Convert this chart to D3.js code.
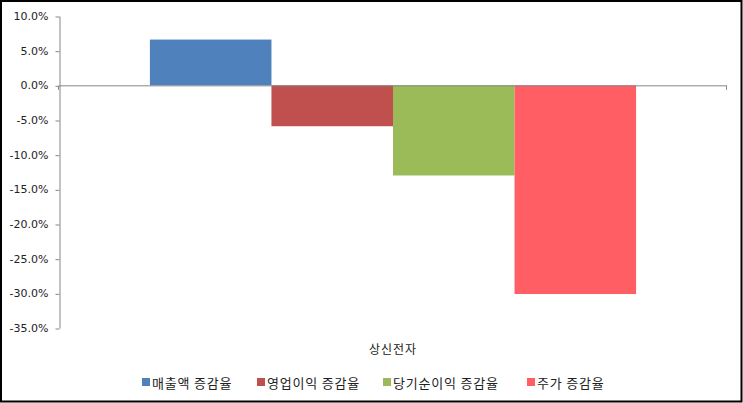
<!DOCTYPE html>
<meta charset="utf-8">
<style>
    body {
        margin: 0;
        font-family: "Noto Sans CJK KR", "DejaVu Sans", sans-serif;
        background: white;
    }

    .axis path,
    .axis line {
        stroke: #868686;
        stroke-width: 1px;
        fill: none;
    }

    text {
        fill: #222222;
    }
</style>

<body>
    <svg id="chart" width="743" height="403"></svg>

    <script src="https://cdnjs.cloudflare.com/ajax/libs/d3/7.8.5/d3.min.js"></script>
    <script>
        var categories = ["상신전자"];
        var seriesNames = ["매출액 증감율", "영업이익 증감율", "당기순이익 증감율", "주가 증감율"];
        var seriesValues = [6.6, -5.9, -13.0, -30.1];
        var seriesColors = ["#4F81BD", "#C0504D", "#9BBB59", "#FF5F64"];
        var yTicks = [10, 5, 0, -5, -10, -15, -20, -25, -30, -35];

        var svg = d3.select("#chart"),
            width = +svg.attr("width"),
            height = +svg.attr("height");

        // outer frame
        svg.append("rect")
            .attr("x", 1)
            .attr("y", 1)
            .attr("width", width - 2.5)
            .attr("height", height - 2.5)
            .attr("fill", "white")
            .attr("stroke", "black")
            .attr("stroke-width", 2);

        var plot = { left: 59, right: 727, top: 16, bottom: 328 };

        var y = d3.scaleLinear()
            .domain([-35, 10])
            .range([plot.bottom, plot.top]);

        var x0 = d3.scaleBand()
            .domain(categories)
            .range([plot.left, plot.right])
            .paddingInner(0)
            .paddingOuter(0.187);

        var x1 = d3.scaleBand()
            .domain(seriesNames)
            .range([0, x0.bandwidth()]);

        var g = svg.append("g");

        categories.forEach(function (c) {
            g.selectAll("rect.bar")
                .data(seriesNames)
                .enter().append("rect")
                .attr("class", "bar")
                .attr("x", function (d) { return x0(c) + x1(d); })
                .attr("width", x1.bandwidth())
                .attr("y", function (d, i) { return y(Math.max(0, seriesValues[i])); })
                .attr("height", function (d, i) { return Math.abs(y(seriesValues[i]) - y(0)); })
                .attr("fill", function (d, i) { return seriesColors[i]; });
        });

        // y axis
        g.append("g")
            .attr("class", "axis")
            .attr("transform", "translate(" + (plot.left + 0.5) + ",0)")
            .call(d3.axisLeft(y)
                .tickValues(yTicks)
                .tickSize(4)
                .tickSizeOuter(0)
                .tickFormat(function (d) { return d.toFixed(1) + "%"; }))
            .call(function (a) {
                a.selectAll("text")
                    .attr("x", -11)
                    .style("font-family", "'DejaVu Sans', sans-serif")
                    .style("font-size", "11px")
                    .style("fill", "#222");
                a.selectAll(".tick line").attr("transform", "translate(0,0.5)");
            });

        // category axis at zero
        var xAxisG = g.append("g")
            .attr("class", "axis")
            .attr("transform", "translate(0," + (y(0) + 0.5) + ")");
        xAxisG.append("line")
            .attr("x1", plot.left)
            .attr("x2", plot.right)
            .attr("y1", 0)
            .attr("y2", 0);
        [plot.left, plot.right].forEach(function (px) {
            xAxisG.append("line")
                .attr("x1", px - 0.5)
                .attr("x2", px - 0.5)
                .attr("y1", 0)
                .attr("y2", 4);
        });

        // category label
        g.selectAll("text.cat")
            .data(categories)
            .enter().append("text")
            .attr("class", "cat")
            .attr("x", function (d) { return x0(d) + x0.bandwidth() / 2; })
            .attr("y", 354)
            .attr("text-anchor", "middle")
            .style("font-size", "12px")
            .style("letter-spacing", "1px")
            .text(function (d) { return d; });

        // legend
        var legendX = [142, 257, 383, 527];
        var legend = svg.append("g");
        seriesNames.forEach(function (name, i) {
            var item = legend.append("g")
                .attr("transform", "translate(" + legendX[i] + ",378)");
            item.append("rect")
                .attr("width", 8)
                .attr("height", 8)
                .attr("fill", seriesColors[i]);
            item.append("text")
                .attr("x", 10)
                .attr("y", 9.5)
                .style("font-size", "13px")
                .style("letter-spacing", "0.8px")
                .text(name);
        });
    </script>
</body>
